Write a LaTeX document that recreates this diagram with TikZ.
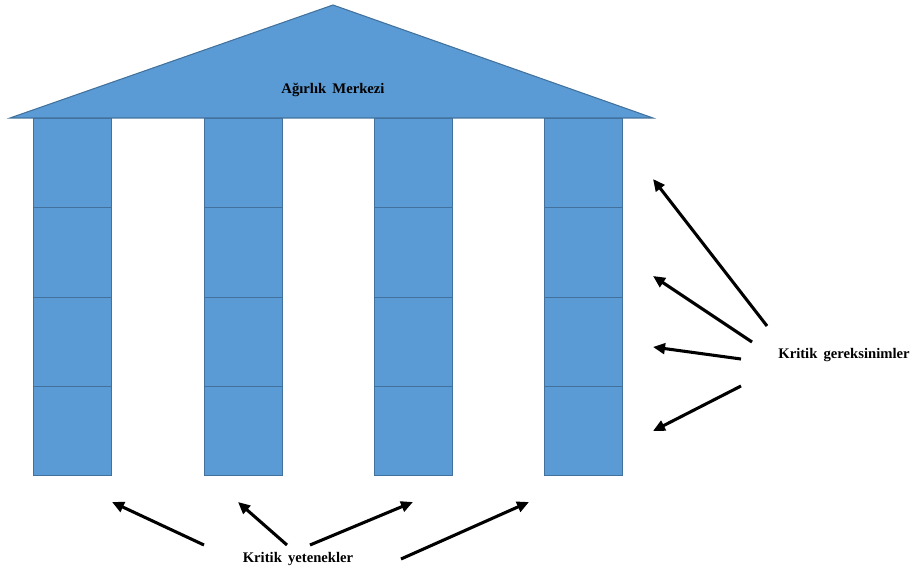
\documentclass[tikz,border=0pt]{standalone}
\usepackage{fontspec}
\setmainfont{Liberation Serif}
\usetikzlibrary{arrows.meta}
\definecolor{pillarblue}{HTML}{5B9BD5}
\definecolor{pillaredge}{HTML}{41719C}
\tikzset{
  block/.style={draw=pillaredge, fill=pillarblue, line width=0.8pt, minimum width=58.5pt, minimum height=66.9pt, inner sep=0pt, anchor=north west},
  push/.style={line width=2.3pt, -{Triangle[length=9pt,width=8pt]}},
  caption/.style={font=\fontsize{11}{13}\selectfont\bfseries}
}
\begin{document}
\begin{tikzpicture}[x=0.75pt, y=-0.75pt]
  \useasboundingbox (0,0) rectangle (912,574);
  % roof
  \draw[draw=pillaredge, fill=pillarblue, line width=0.8pt] (10,118) -- (333,5) -- (653,118) -- cycle;
  \node[caption] (centre) at (333,90) {Ağırlık\, Merkezi};
  % pillars
  \foreach \c/\x in {1/33, 2/204, 3/374, 4/544}
    \foreach \r/\y in {1/118, 2/207.3, 3/296.5, 4/385.8}
      \node[block] (p\c\r) at (\x,\y) {};
  % labels
  \node[caption] (needs) at (844,355) {Kritik\, gereksinimler};
  \node[caption] (skills) at (298,559) {Kritik\, yetenekler};
  % arrows, right
  \coordinate (n1) at (767,326); \coordinate (m1) at (653,179);
  \coordinate (n2) at (752,342); \coordinate (m2) at (653,276);
  \coordinate (n3) at (741,359); \coordinate (m3) at (653,347);
  \coordinate (n4) at (741,386); \coordinate (m4) at (653,431);
  \draw[push] (n1) -- (m1);
  \draw[push] (n2) -- (m2);
  \draw[push] (n3) -- (m3);
  \draw[push] (n4) -- (m4);
  % arrows, bottom
  \coordinate (s1) at (204,545); \coordinate (t1) at (112,502);
  \coordinate (s2) at (287,545); \coordinate (t2) at (238,502);
  \coordinate (s3) at (310,545); \coordinate (t3) at (413,502);
  \coordinate (s4) at (401,559); \coordinate (t4) at (529,502);
  \draw[push] (s1) -- (t1);
  \draw[push] (s2) -- (t2);
  \draw[push] (s3) -- (t3);
  \draw[push] (s4) -- (t4);
\end{tikzpicture}
\end{document}
